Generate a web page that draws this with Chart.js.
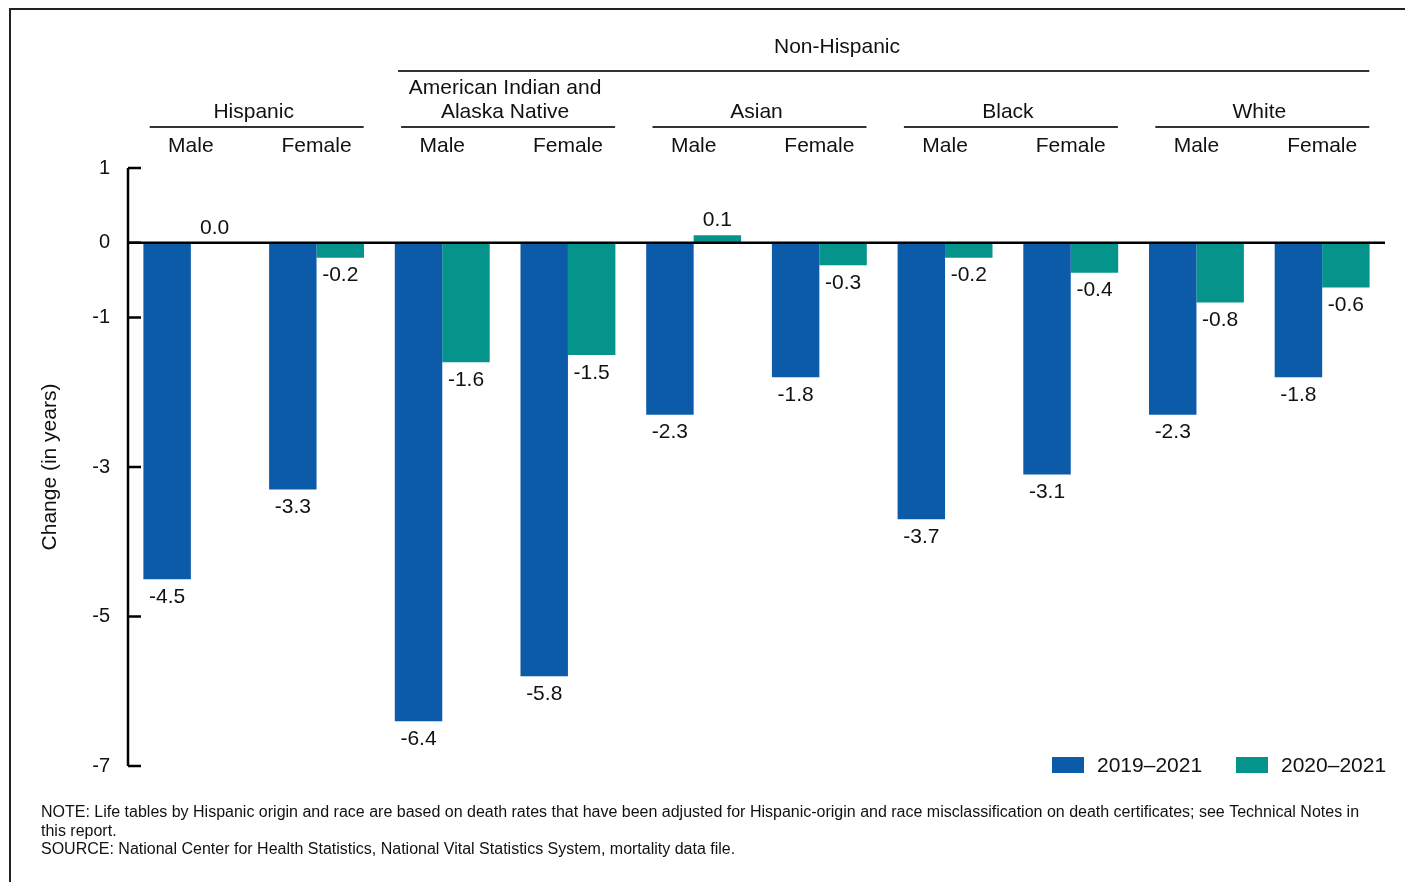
<!DOCTYPE html>
<html>
<head>
<meta charset="utf-8">
<script src="https://cdn.jsdelivr.net/npm/chart.js@4"></script>
<style>
  html, body { margin: 0; padding: 0; background: #fff; }
  canvas { display: block; }
</style>
</head>
<body>
<canvas id="lifeChart" width="1405" height="882"></canvas>
<script>
// categories (sex within each group)
const categories = ['Male', 'Female', 'Male', 'Female', 'Male', 'Female', 'Male', 'Female', 'Male', 'Female'];
const groups = [['Hispanic'], ['American Indian and', 'Alaska Native'], ['Asian'], ['Black'], ['White']];
const seriesNames = ['2019\u20132021', '2020\u20132021'];
const change2019 = [-4.5, -3.3, -6.4, -5.8, -2.3, -1.8, -3.7, -3.1, -2.3, -1.8];
const change2020 = [0.0, -0.2, -1.6, -1.5, 0.1, -0.3, -0.2, -0.4, -0.8, -0.6];
const yTicks = [1, 0, -1, -3, -5, -7];
const colors = ['#0b5ba8', '#05948c'];
const notes = [
    'NOTE: Life tables by Hispanic origin and race are based on death rates that have been adjusted for Hispanic-origin and race misclassification on death certificates; see Technical Notes in',
    'this report.',
    'SOURCE: National Center for Health Statistics, National Vital Statistics System, mortality data file.'
];

const FONT = "'Liberation Sans', Arial, sans-serif";

const decorations = {
    id: 'decorations',
    beforeDraw(chart) {
        const ctx = chart.ctx;
        ctx.save();
        ctx.fillStyle = '#fff';
        ctx.fillRect(0, 0, chart.width, chart.height);
        // frame
        ctx.strokeStyle = '#222';
        ctx.lineWidth = 2;
        ctx.beginPath();
        ctx.moveTo(10, chart.height);
        ctx.lineTo(10, 9);
        ctx.lineTo(chart.width, 9);
        ctx.stroke();
        ctx.restore();
    },
    afterDatasetsDraw(chart) {
        const ctx = chart.ctx;
        const x = chart.scales.x;
        const y = chart.scales.y;
        const area = chart.chartArea;
        ctx.save();

        // value labels
        ctx.fillStyle = '#111';
        ctx.font = '21px ' + FONT;
        ctx.textAlign = 'center';
        ctx.textBaseline = 'middle';
        chart.data.datasets.forEach((ds, di) => {
            chart.getDatasetMeta(di).data.forEach((bar, i) => {
                const v = ds.data[i];
                const ty = v >= 0 ? bar.y - 15 : bar.y + 18;
                ctx.fillText(v.toFixed(1), bar.x, ty);
            });
        });

        // zero line
        ctx.strokeStyle = '#000';
        ctx.lineWidth = 2.5;
        ctx.beginPath();
        ctx.moveTo(area.left, y.getPixelForValue(0));
        ctx.lineTo(area.right, y.getPixelForValue(0));
        ctx.stroke();

        // y axis line and inward ticks
        ctx.beginPath();
        ctx.moveTo(area.left, y.getPixelForValue(yTicks[0]));
        ctx.lineTo(area.left, y.getPixelForValue(yTicks[yTicks.length - 1]));
        yTicks.forEach(t => {
            const py = y.getPixelForValue(t);
            ctx.moveTo(area.left, py);
            ctx.lineTo(area.left + 13, py);
        });
        ctx.stroke();

        // y axis title
        ctx.save();
        ctx.translate(50, (area.top + area.bottom) / 2);
        ctx.rotate(-Math.PI / 2);
        ctx.font = '21px ' + FONT;
        ctx.fillText('Change (in years)', 0, 0);
        ctx.restore();

        // header: sex labels
        ctx.font = '21px ' + FONT;
        categories.forEach((c, i) => {
            ctx.fillText(c, x.getPixelForValue(i), 146);
        });

        // header: group labels with underlines
        ctx.strokeStyle = '#333';
        ctx.lineWidth = 2;
        groups.forEach((g, gi) => {
            const mid = (x.getPixelForValue(gi * 2) + x.getPixelForValue(gi * 2 + 1)) / 2;
            ctx.beginPath();
            ctx.moveTo(mid - 104, 127);
            ctx.lineTo(mid + 110, 127);
            ctx.stroke();
            g.forEach((line, li) => {
                ctx.fillText(line, mid, 112 - (g.length - 1 - li) * 24);
            });
        });

        // Non-Hispanic spanner
        const nhLeft = (x.getPixelForValue(2) + x.getPixelForValue(3)) / 2 - 107;
        const nhRight = (x.getPixelForValue(8) + x.getPixelForValue(9)) / 2 + 110;
        ctx.beginPath();
        ctx.moveTo(nhLeft, 71);
        ctx.lineTo(nhRight, 71);
        ctx.stroke();
        ctx.fillText('Non-Hispanic', 837, 47);

        // legend
        ctx.textAlign = 'left';
        const legendX = [1052, 1236];
        seriesNames.forEach((s, i) => {
            ctx.fillStyle = colors[i];
            ctx.fillRect(legendX[i], 757, 32, 16);
            ctx.fillStyle = '#111';
            ctx.fillText(s, legendX[i] + 45, 766);
        });

        // notes
        ctx.font = '16px ' + FONT;
        notes.forEach((n, i) => {
            ctx.fillText(n, 41, 813 + i * 18.5);
        });

        ctx.restore();
    }
};

const ctx = document.getElementById('lifeChart').getContext('2d');
const myChart = new Chart(ctx, {
    type: 'bar',
    plugins: [decorations],
    data: {
        labels: categories,
        datasets: [
            {
                label: seriesNames[0],
                data: change2019,
                backgroundColor: colors[0],
                barPercentage: 1,
                categoryPercentage: 0.755
            },
            {
                label: seriesNames[1],
                data: change2020,
                backgroundColor: colors[1],
                barPercentage: 1,
                categoryPercentage: 0.755
            }
        ]
    },
    options: {
        responsive: false,
        animation: false,
        layout: {
            padding: { top: 168, right: 20, bottom: 116, left: 0 }
        },
        plugins: {
            legend: { display: false },
            title: { display: false },
            tooltip: { enabled: false }
        },
        scales: {
            x: {
                display: false
            },
            y: {
                min: -7,
                max: 1,
                afterBuildTicks: (scale) => {
                    scale.ticks = yTicks.map(v => ({ value: v }));
                },
                afterFit: (scale) => {
                    scale.width = 128;
                },
                grid: { display: false, drawTicks: false },
                border: { display: false },
                ticks: {
                    padding: 18,
                    color: '#111',
                    font: { family: FONT, size: 20 }
                }
            }
        }
    }
});
</script>
</body>
</html>
